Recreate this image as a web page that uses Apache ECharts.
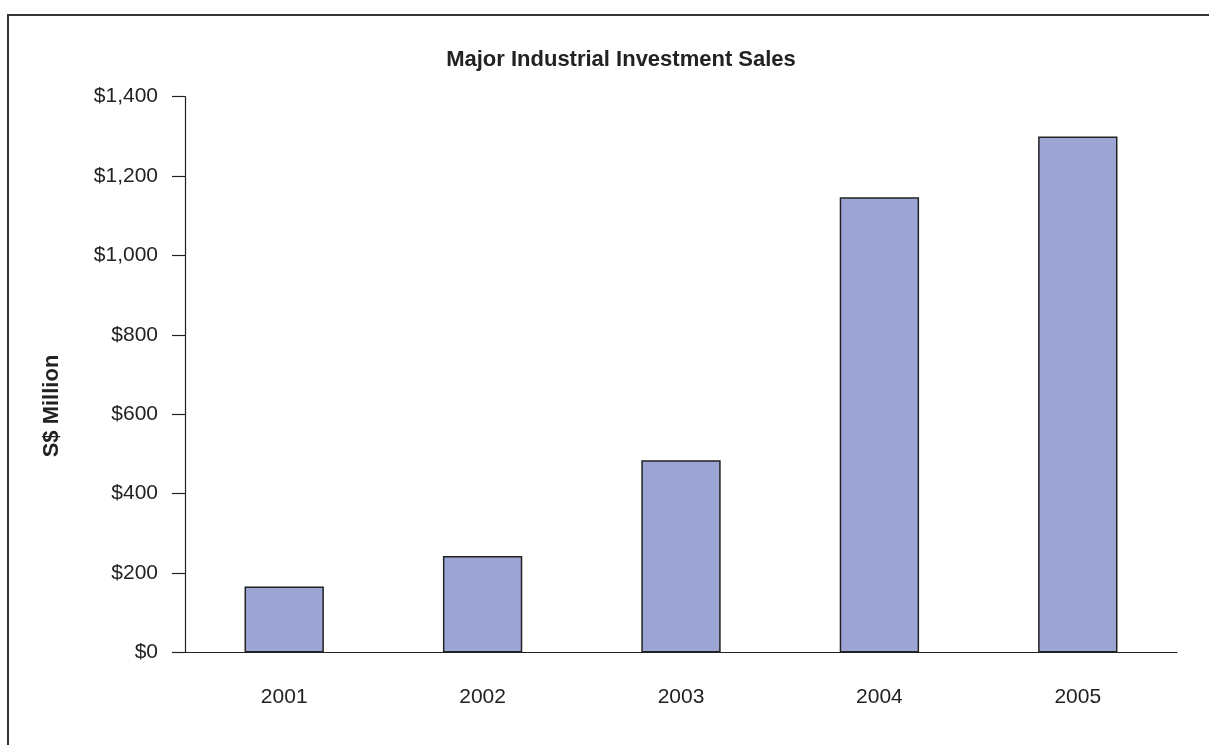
<!DOCTYPE html>
<html>
<head>
<meta charset="utf-8">
<script src="https://cdn.jsdelivr.net/npm/echarts@6/dist/echarts.min.js"></script>
<style>html,body{margin:0;padding:0;background:#fff;}#c{width:1209px;height:745px;}</style>
</head>
<body>
<div id="c"></div>
<script>
const years = ['2001', '2002', '2003', '2004', '2005'];
const sales = [166, 243, 484, 1146, 1299];
const yTicks = [0, 200, 400, 600, 800, 1000, 1200, 1400];

const chart = echarts.init(document.getElementById('c'), null, {renderer: 'canvas'});
chart.setOption({
  animation: false,
  backgroundColor: '#fff',
  title: {
    text: 'Major Industrial Investment Sales',
    left: 616, top: 44, textAlign: 'center',
    textStyle: {fontFamily: 'Liberation Sans, Arial', fontSize: 22, fontWeight: 'bold', color: '#222'}
  },
  graphic: [
    {type: 'polyline', shape: {points: [[8, 745], [8, 15], [1209, 15]]}, style: {stroke: '#333', lineWidth: 2, fill: null}, silent: true},
    {type: 'text', x: 52, y: 406, rotation: Math.PI / 2, silent: true,
     style: {text: 'S$ Million', textAlign: 'center', textVerticalAlign: 'middle',
             font: 'bold 22px "Liberation Sans", Arial', fill: '#222'}}
  ],
  grid: {left: 185, right: 32, top: 96.5, bottom: 92.5, containLabel: false},
  xAxis: {
    type: 'category', data: years,
    axisLine: {show: true, lineStyle: {color: '#222', width: 1.2}},
    axisTick: {show: false},
    axisLabel: {margin: 34, fontFamily: 'Liberation Sans, Arial', fontSize: 21, color: '#222'}
  },
  yAxis: {
    type: 'value', min: 0, max: 1400, interval: 200,
    axisLine: {show: true, lineStyle: {color: '#222', width: 1.2}},
    axisTick: {show: true, inside: false, length: 13, lineStyle: {color: '#222', width: 1.2}},
    splitLine: {show: false},
    axisLabel: {
      margin: 27, fontFamily: 'Liberation Sans, Arial', fontSize: 21, color: '#222',
      formatter: v => yTicks.includes(v) ? '$' + v.toLocaleString('en-US') : ''
    }
  },
  series: [{
    type: 'bar', data: sales, barWidth: '40%',
    itemStyle: {color: '#9da5d4', borderColor: '#222', borderWidth: 1.5}
  }]
});
</script>
</body>
</html>
